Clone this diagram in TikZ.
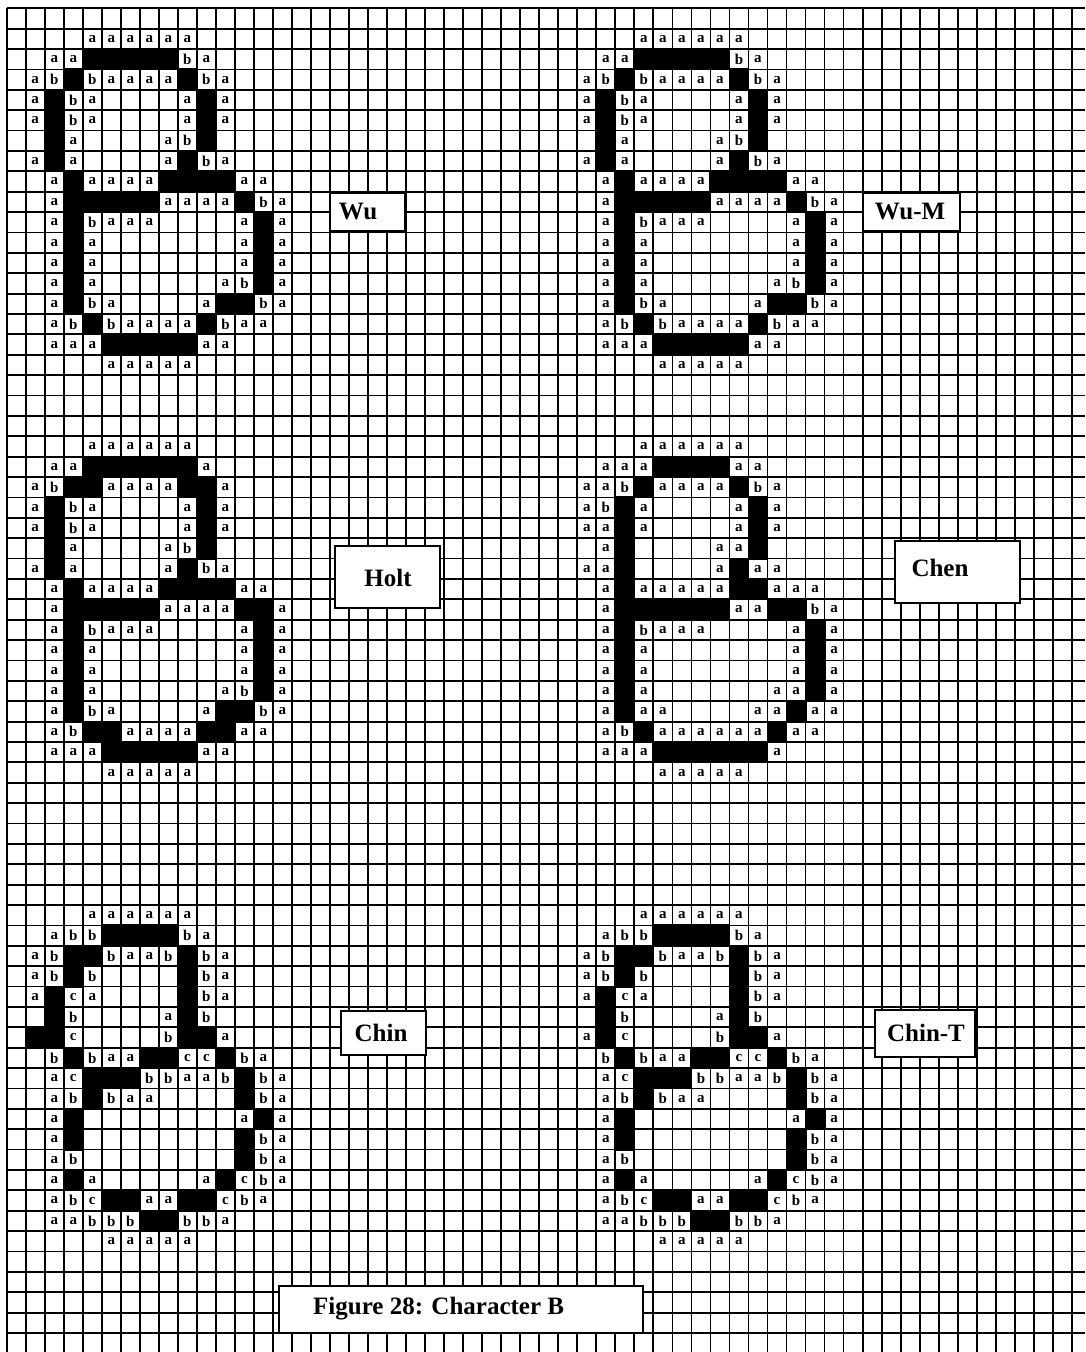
\documentclass[tikz,border=0pt]{standalone}
\usepackage{fontspec}
\setmainfont{Liberation Serif}
\newcount\Bc
\def\Bend{}
\def\Brow#1#2#3{\Bc=#1\relax\def\Br{#2}\Bscan#3\Bend}
\def\Bscan#1{\ifx\Bend#1\else\Bcell#1\advance\Bc by 1\relax\expandafter\Bscan\fi}
\def\Bcell#1{\if#1.\else\if#1X\fill[black] (\the\Bc-0.05,\Br-0.05) rectangle (\the\Bc+1.05,\Br+1.05);\else\node[lettercell] at (\the\Bc+0.5,\Br+0.5) {#1};\fi\fi}
\begin{document}
\begin{tikzpicture}[x=1pt,y=-1pt,
  gridline/.style={line width=1.8pt, black},
  lettercell/.style={inner sep=0pt, font=\bfseries\fontsize{15}{15}\selectfont},
  namebox/.style={draw=black, line width=2pt, fill=white, inner sep=0pt},
  nametext/.style={inner sep=0pt, font=\bfseries\fontsize{25}{25}\selectfont}]
\useasboundingbox (0,0) rectangle (1085,1352);
\fill[white] (0,0) rectangle (1085,1352);
\begin{scope}[xshift=6.7pt, yshift=-8.3pt, x=19.02pt, y=-20.38pt]
\foreach \i in {0,...,56} \draw[gridline] (\i,0) -- (\i,65.93);
\foreach \j in {0,...,65} \draw[gridline] (0,\j) -- (56.7,\j);
% ---- Wu (col 0) and Wu-M (col 29)
\foreach \o in {0,29}{
\Brow{\o}{1}{....aaaaaa}
\Brow{\o}{2}{..aaXXXXXba}
\Brow{\o}{3}{.abXbaaaaXba}
\Brow{\o}{4}{.aXba....aXa}
\Brow{\o}{5}{.aXba....aXa}
\Brow{\o}{6}{..Xa....abX}
\Brow{\o}{7}{.aXa....aXba}
\Brow{\o}{8}{..aXaaaaXXXXaa}
\Brow{\o}{9}{..aXXXXXaaaaXba}
\Brow{\o}{10}{..aXbaaa....aXa}
\Brow{\o}{11}{..aXa.......aXa}
\Brow{\o}{12}{..aXa.......aXa}
\Brow{\o}{13}{..aXa......abXa}
\Brow{\o}{14}{..aXba....aXXba}
\Brow{\o}{15}{..abXbaaaaXbaa}
\Brow{\o}{16}{..aaaXXXXXaa}
\Brow{\o}{17}{.....aaaaa}
}
% ---- Holt
\Brow{0}{21}{....aaaaaa}
\Brow{0}{22}{..aaXXXXXXa}
\Brow{0}{23}{.abXXaaaaXXa}
\Brow{0}{24}{.aXba....aXa}
\Brow{0}{25}{.aXba....aXa}
\Brow{0}{26}{..Xa....abX}
\Brow{0}{27}{.aXa....aXba}
\Brow{0}{28}{..aXaaaaXXXXaa}
\Brow{0}{29}{..aXXXXXaaaaXXa}
\Brow{0}{30}{..aXbaaa....aXa}
\Brow{0}{31}{..aXa.......aXa}
\Brow{0}{32}{..aXa.......aXa}
\Brow{0}{33}{..aXa......abXa}
\Brow{0}{34}{..aXba....aXXba}
\Brow{0}{35}{..abXXaaaaXXaa}
\Brow{0}{36}{..aaaXXXXXaa}
\Brow{0}{37}{.....aaaaa}
% ---- Chen
\Brow{29}{21}{....aaaaaa}
\Brow{29}{22}{..aaaXXXXaa}
\Brow{29}{23}{.aabXaaaaXba}
\Brow{29}{24}{.abXa....aXa}
\Brow{29}{25}{.aaXa....aXa}
\Brow{29}{26}{..aX....aaX}
\Brow{29}{27}{.aaX....aXaa}
\Brow{29}{28}{..aXaaaaaXXaaa}
\Brow{29}{29}{..aXXXXXXaaXXba}
\Brow{29}{30}{..aXbaaa....aXa}
\Brow{29}{31}{..aXa.......aXa}
\Brow{29}{32}{..aXa.......aXa}
\Brow{29}{33}{..aXa......aaXa}
\Brow{29}{34}{..aXaa....aaXaa}
\Brow{29}{35}{..abXaaaaaaXaa}
\Brow{29}{36}{..aaaXXXXXXa}
\Brow{29}{37}{.....aaaaa}
% ---- Chin (col 0) and Chin-T (col 29)
\foreach \o in {0,29}{
\Brow{\o}{44}{....aaaaaa}
\Brow{\o}{45}{..abbXXXXba}
\Brow{\o}{46}{.abXXbaabXba}
\Brow{\o}{47}{.abXb....Xba}
\Brow{\o}{48}{.aXca....Xba}
\Brow{\o}{49}{..Xb....aXb}
\Brow{\o}{51}{..bXbaaXXccXba}
\Brow{\o}{52}{..acXXXbbaabXba}
\Brow{\o}{53}{..abXbaa....Xba}
\Brow{\o}{54}{..aX........aXa}
\Brow{\o}{55}{..aX........Xba}
\Brow{\o}{56}{..ab........Xba}
\Brow{\o}{57}{..aXa.....aXcba}
\Brow{\o}{58}{..abcXXaaXXcba}
\Brow{\o}{59}{..aabbbXXbba}
\Brow{\o}{60}{.....aaaaa}
}
\Brow{0}{50}{.XXc....bXXa}
\Brow{29}{50}{.aXc....bXXa}
\end{scope}
\node[namebox, minimum width=75pt, minimum height=38pt] (wubox) at (367,212) {};
\node[nametext] (wu) at (358,212) {Wu};
\node[namebox, minimum width=97pt, minimum height=38pt] (wumbox) at (911,212) {};
\node[nametext] (wum) at (910,212) {Wu-M};
\node[namebox, minimum width=105pt, minimum height=62pt] (holtbox) at (387,577) {};
\node[nametext] (holt) at (388,578) {Holt};
\node[namebox, minimum width=125pt, minimum height=62pt] (chenbox) at (957,572) {};
\node[nametext] (chen) at (940,568) {Chen};
\node[namebox, minimum width=85pt, minimum height=44pt] (chinbox) at (383,1033) {};
\node[nametext] (chin) at (381,1033) {Chin};
\node[namebox, minimum width=100pt, minimum height=47pt] (chintbox) at (925,1033) {};
\node[nametext] (chint) at (926,1033) {Chin-T};
\node[namebox, minimum width=364pt, minimum height=47pt] (cap) at (461,1309) {};
\node[anchor=west, inner sep=0pt, font=\bfseries\fontsize{25}{25}\selectfont] (captext) at (313,1309) {Figure 28: Character B};
\end{tikzpicture}
\end{document}
